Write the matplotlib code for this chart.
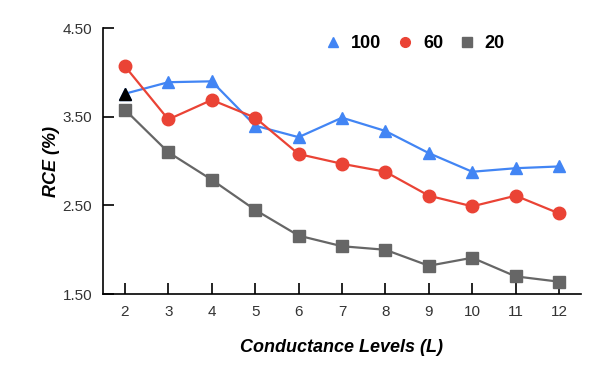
import numpy as np
import matplotlib.pyplot as plt

plt.rcParams['font.family'] = ['Liberation Sans', 'DejaVu Sans']

# data
levels = [2, 3, 4, 5, 6, 7, 8, 9, 10, 11, 12]
rce_100 = [3.76, 3.89, 3.90, 3.40, 3.27, 3.49, 3.34, 3.09, 2.88, 2.92, 2.94]
rce_60 = [4.07, 3.47, 3.69, 3.49, 3.08, 2.97, 2.88, 2.61, 2.49, 2.61, 2.41]
rce_20 = [3.58, 3.10, 2.79, 2.45, 2.16, 2.04, 2.00, 1.82, 1.91, 1.70, 1.64]
y_ticks = [1.5, 2.5, 3.5, 4.5]

fig = plt.figure(figsize=(6, 3.8), dpi=100)
ax = fig.add_axes([0.172, 0.226, 0.796, 0.70])

ax.plot(levels, rce_100, color='#4285F4', lw=1.6, marker='^', ms=9, label='100', zorder=3)
ax.plot(levels, rce_60, color='#EA4335', lw=1.6, marker='o', ms=9, label='60', zorder=3)
ax.plot(levels, rce_20, color='#666666', lw=1.6, marker='s', ms=8, label='20', zorder=3)
# first point of the 100 series is highlighted in black
ax.plot(levels[0], rce_100[0], marker='^', ms=9, color='black', ls='none', zorder=4)

ax.set_xlim(1.5, 12.5)
ax.set_ylim(1.5, 4.5)
ax.set_xticks(levels)
ax.set_yticks(y_ticks)
ax.set_yticklabels(['%.2f' % v for v in y_ticks])
ax.tick_params(direction='in', length=8, width=1.2, labelsize=11, colors='black',
               labelcolor='#333333', pad=8)
ax.spines['top'].set_visible(False)
ax.spines['right'].set_visible(False)
ax.spines['left'].set_linewidth(1.2)
ax.spines['bottom'].set_linewidth(1.2)

ax.set_xlabel('Conductance Levels (L)', fontsize=13, fontweight='bold', style='italic', labelpad=14)
ax.set_ylabel('RCE (%)', fontsize=13, fontweight='bold', style='italic', labelpad=2)

leg = ax.legend(loc='upper right', bbox_to_anchor=(0.875, 1.035), ncol=3, frameon=False,
                handlelength=1.0, handletextpad=0.5, columnspacing=0.8,
                prop={'weight': 'bold', 'size': 13})
for h in leg.legend_handles:
    h.set_linestyle('none')
    h.set_markersize(7)

fig.savefig('out.png', dpi=100)
